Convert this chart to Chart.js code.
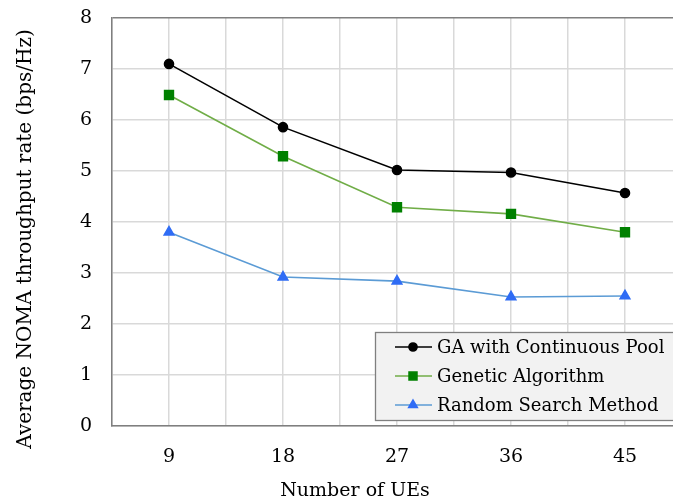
<!DOCTYPE html>
<html>
<head>
<meta charset="utf-8">
<script src="https://cdn.jsdelivr.net/npm/chart.js@4"></script>
<style>
  html, body { margin: 0; padding: 0; background: #fff; overflow: hidden; }
  #wrap { width: 690px; height: 504px; }
</style>
</head>
<body>
<div id="wrap"><canvas id="grafico" width="690" height="504"></canvas></div>
<script>
// datos
const numeroUEs = [9, 18, 27, 36, 45];
const gaContinuo = [7.10, 5.86, 5.02, 4.97, 4.57];
const algoritmoGenetico = [6.49, 5.29, 4.29, 4.16, 3.80];
const busquedaAleatoria = [3.80, 2.92, 2.84, 2.53, 2.55];
const ticksY = [0, 1, 2, 3, 4, 5, 6, 7, 8];
const tituloX = 'Number of UEs';
const tituloY = 'Average NOMA throughput rate (bps/Hz)';

const fuente = "'DejaVu Serif', serif";

function puntos(valores) {
  return numeroUEs.map((x, i) => ({ x: x, y: valores[i] }));
}

// leyenda dibujada a mano (linea + marcador, con fondo gris) y titulos de los ejes
const leyendaCaja = {
  id: 'leyendaCaja',
  afterDraw(chart) {
    const ctx = chart.ctx;
    const x0 = 375, y0 = 332, w = 320, h = 88;
    ctx.save();
    ctx.fillStyle = '#f2f2f2';
    ctx.fillRect(x0, y0, w, h);
    ctx.strokeStyle = '#7f7f7f';
    ctx.lineWidth = 1.3;
    ctx.strokeRect(x0 + 0.5, y0 + 0.5, w, h);
    ctx.font = '18px ' + fuente;
    ctx.textBaseline = 'middle';
    chart.data.datasets.forEach((ds, i) => {
      const cy = y0 + 15 + i * 29;
      ctx.strokeStyle = ds.borderColor;
      ctx.lineWidth = ds.borderWidth;
      ctx.beginPath();
      ctx.moveTo(395, cy);
      ctx.lineTo(432, cy);
      ctx.stroke();
      ctx.fillStyle = ds.pointBackgroundColor;
      ctx.strokeStyle = ds.pointBorderColor;
      Chart.helpers.drawPoint(ctx, {
        pointStyle: ds.pointStyle,
        radius: ds.pointRadius * 0.9,
        rotation: 0,
        borderWidth: 1
      }, 413, cy);
      ctx.fillStyle = '#000';
      ctx.fillText(ds.label, 437, cy + 1);
    });

    // titulos de los ejes (en el original no estan centrados en el area)
    ctx.font = '19px ' + fuente;
    ctx.textAlign = 'center';
    ctx.fillStyle = '#000';
    ctx.fillText(tituloX, 355, 491);

    ctx.font = '20px ' + fuente;
    ctx.translate(26, 239);
    ctx.rotate(-Math.PI / 2);
    ctx.fillText(tituloY, 0, 0);
    ctx.restore();
  }
};

new Chart(document.getElementById('grafico'), {
  type: 'line',
  data: {
    datasets: [
      {
        label: 'GA with Continuous Pool',
        data: puntos(gaContinuo),
        borderColor: '#000000',
        borderWidth: 1.6,
        pointStyle: 'circle',
        pointRadius: 4.5,
        pointBackgroundColor: '#000000',
        pointBorderColor: '#000000'
      },
      {
        label: 'Genetic Algorithm',
        data: puntos(algoritmoGenetico),
        borderColor: '#70ad47',
        borderWidth: 1.6,
        pointStyle: 'rect',
        pointRadius: 6.2,
        pointBackgroundColor: '#008000',
        pointBorderColor: '#008000'
      },
      {
        label: 'Random Search Method',
        data: puntos(busquedaAleatoria),
        borderColor: '#5b9bd5',
        borderWidth: 1.6,
        pointStyle: 'triangle',
        pointRadius: 5.5,
        pointBackgroundColor: '#2f6cf5',
        pointBorderColor: '#2f6cf5'
      }
    ]
  },
  options: {
    responsive: false,
    animation: false,
    layout: { padding: { top: 18, right: 8, left: 0, bottom: 0 } },
    plugins: {
      legend: { display: false },
      tooltip: { enabled: false }
    },
    scales: {
      x: {
        type: 'linear',
        min: 4.5,
        max: 49.5,
        afterFit(scale) {
          scale.height = 78;
          scale.paddingLeft = 0;
          scale.paddingRight = 0;
        },
        ticks: {
          stepSize: 4.5,
          autoSkip: false,
          maxRotation: 0,
          padding: 20,
          color: '#000',
          font: { family: fuente, size: 19 },
          callback: v => (v % 9 === 0 ? v : '')
        },
        grid: { color: '#d9d9d9', lineWidth: 1.5, drawTicks: false },
        border: { color: '#7f7f7f', width: 1.5 }
      },
      y: {
        min: 0,
        max: 8,
        afterFit(scale) {
          scale.width = 112;
          scale.paddingTop = 0;
          scale.paddingBottom = 0;
        },
        afterBuildTicks(scale) { scale.ticks = ticksY.map(v => ({ value: v })); },
        ticks: {
          padding: 20,
          color: '#000',
          font: { family: fuente, size: 19 }
        },
        grid: {
          color: c => (c.tick && c.tick.value === 8 ? '#7f7f7f' : '#d9d9d9'),
          lineWidth: 1.5,
          drawTicks: false
        },
        border: { color: '#7f7f7f', width: 1.5 }
      }
    }
  },
  plugins: [leyendaCaja]
});
</script>
</body>
</html>
